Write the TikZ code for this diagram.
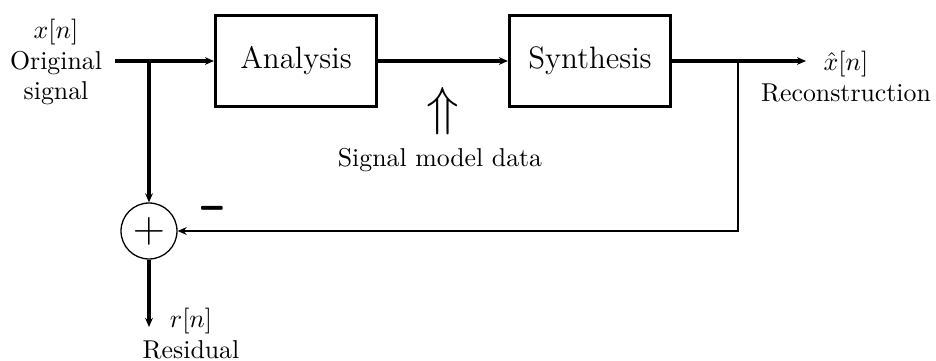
\documentclass[tikz,border=0pt]{standalone}
\usepackage{amsmath}
\usetikzlibrary{arrows.meta}
\begin{document}
\begin{tikzpicture}[x=0.3876pt,y=-0.3876pt,
  block/.style={draw,line width=1.2pt,minimum width=62.4pt,minimum height=35.3pt,inner sep=0pt,font=\large},
  sigline/.style={line width=1.2pt,-{Stealth[length=3.5pt,width=3pt]}},
  plainline/.style={line width=1.2pt},
  fbline/.style={line width=0.6pt,-{Stealth[length=3.5pt,width=3pt]}},
  adder/.style={draw,circle,line width=0.5pt,minimum size=21.7pt,inner sep=0pt,font=\LARGE},
  lbl/.style={align=center,inner sep=0pt}]
\useasboundingbox (0,0) rectangle (936,361);

% processing blocks
\node[block] (ana) at (296,61) {Analysis};
\node[block] (syn) at (590,61) {Synthesis};

% summing junction
\node[adder] (sum) at (149,231) {$+$};

% branch points and free ends
\coordinate (in) at (115,61);
\coordinate (br1) at (149,61);
\coordinate (br2) at (738,61);
\coordinate (out) at (806,61);
\coordinate (res) at (149,327);

% forward path
\draw[plainline] (in) -- (br1);
\draw[sigline] (br1) -- (ana.west);
\draw[sigline] (ana.east) -- (syn.west);
\draw[sigline] (syn.east) -- (out);

% residual path
\draw[sigline] (br1) -- (sum.north);
\draw[sigline] (sum.south) -- (res);

% feedback of the reconstruction
\draw[fbline] (br2) |- (sum.east);

% labels
\node[lbl] (xin) at (56,62) {$x[n]$\\Original\\signal};
\node[lbl] (xout) at (846,77) {$\hat{x}[n]$\\Reconstruction};
\node[lbl] (rlab) at (191,334) {$r[n]$\\Residual};
\node[inner sep=0pt,font=\huge] (upa) at (443,111) {$\Uparrow$};
\node[inner sep=0pt] (smd) at (440,160) {Signal model data};
\node[inner sep=0pt] (minus) at (212,208) {\scalebox{1.2}[2.5]{$\boldsymbol{-}$}};
\end{tikzpicture}
\end{document}
